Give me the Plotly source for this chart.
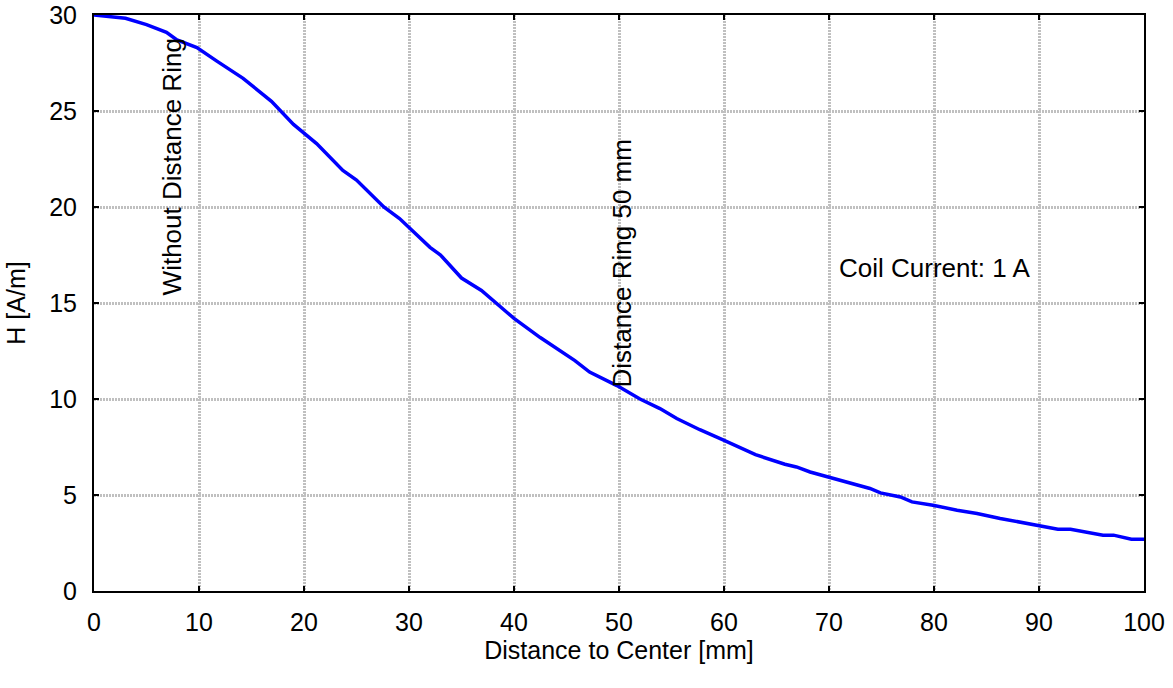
import plotly.graph_objects as go

distance_mm = [0, 3.0, 5.0, 6.9, 7.9, 9.8, 11.7, 14.2, 16.9, 19.0, 21.2, 23.7, 25.0, 27.6, 29.1,
               32.0, 33.0, 35.0, 36.9, 40.0, 42.5, 44.1, 45.8, 47.2, 49.8, 52.0, 53.9, 55.5,
               57.7, 59.8, 61.0, 63.0, 65.8, 66.9, 68.2, 69.9, 71.0, 72.0, 73.0, 73.9, 74.9,
               76.8, 77.9, 79.9, 82.2, 84.1, 86.3, 88.2, 89.9, 91.8, 93.0, 94.7, 96.1, 97.1,
               98.8, 100.0]
h_field = [30.0, 29.83, 29.5, 29.1, 28.7, 28.3, 27.6, 26.7, 25.5, 24.3, 23.3, 21.9, 21.4, 20.0, 19.4,
           17.9, 17.5, 16.3, 15.65, 14.2, 13.2, 12.6, 12.0, 11.4, 10.7, 10.0, 9.5, 8.98,
           8.4, 7.9, 7.6, 7.1, 6.6, 6.46, 6.2, 5.94, 5.74, 5.63, 5.46, 5.34, 5.11,
           4.9, 4.64, 4.47, 4.21, 4.04, 3.78, 3.6, 3.4, 3.22, 3.22, 3.03, 2.91, 2.91,
           2.70, 2.70]

x_ticks = [0, 10, 20, 30, 40, 50, 60, 70, 80, 90, 100]
y_ticks = [0, 5, 10, 15, 20, 25, 30]

labels = ["Without Distance Ring", "Distance Ring 50 mm", "Coil Current: 1 A"]
label_x = [7.4, 50.3, 80.0]
label_y = [22.1, 17.06, 16.8]
label_angle = [-90, -90, 0]

FONT = "Liberation Sans, Arial, sans-serif"
FS = 25

fig = go.Figure()
fig.add_trace(go.Scatter(x=distance_mm, y=h_field, mode="lines",
                         line=dict(color="#0000ff", width=3.5), showlegend=False))

for t, xx, yy, a in zip(labels, label_x, label_y, label_angle):
    fig.add_annotation(x=xx, y=yy, text=t, textangle=a, showarrow=False,
                       font=dict(family=FONT, size=26, color="black"))

axis_common = dict(showline=True, linecolor="black", linewidth=2, mirror="ticks",
                   ticks="inside", ticklen=5, tickwidth=2, tickcolor="black",
                   showgrid=True, gridcolor="#c0c0c0", gridwidth=2.5, griddash="2px,1px",
                   zeroline=False, automargin=False,
                   tickfont=dict(family=FONT, size=FS, color="black"))

fig.update_xaxes(range=[0, 100], tickvals=x_ticks, ticklabelstandoff=8,
                 title=dict(text="Distance to Center [mm]", font=dict(family=FONT, size=FS, color="black"),
                            standoff=0),
                 **axis_common)
fig.update_yaxes(range=[0, 30], tickvals=y_ticks, ticklabelstandoff=10,
                 title=dict(text="H [A/m]", font=dict(family=FONT, size=FS, color="black"),
                            standoff=16),
                 **axis_common)

fig.update_layout(width=1173, height=688, plot_bgcolor="white", paper_bgcolor="white",
                  margin=dict(l=94, r=29, t=15, b=97), font=dict(family=FONT))

fig.write_html("out.html", config={"displayModeBar": False},
               post_script="document.body.style.margin='0';")
